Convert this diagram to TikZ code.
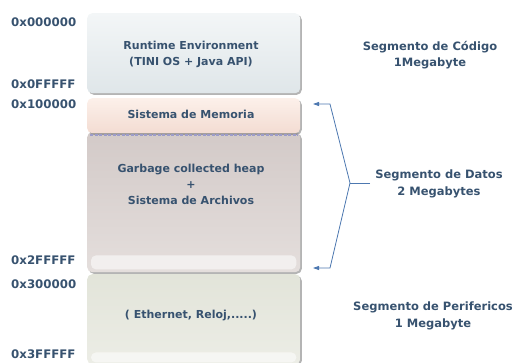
\documentclass[tikz,border=0pt]{standalone}
\usepackage{fontspec}
\setmainfont{DejaVu Sans}[BoldFont={DejaVu Sans Bold}]
\usetikzlibrary{shadows,arrows.meta}
\definecolor{txt}{HTML}{37526F}
\definecolor{brk}{HTML}{4D78B0}
\definecolor{codeTop}{HTML}{F3F6F7}
\definecolor{codeBot}{HTML}{DFE6E9}
\definecolor{memTop}{HTML}{FCF0EA}
\definecolor{memBot}{HTML}{F3DCD2}
\definecolor{heapTop}{HTML}{D3CAC8}
\definecolor{heapBot}{HTML}{E4DEDC}
\definecolor{periTop}{HTML}{E2E4D9}
\definecolor{periBot}{HTML}{ECEDE6}
\tikzset{
  membox/.style={rounded corners=5pt, minimum width=213pt, inner sep=0pt,
    drop shadow={shadow xshift=1.6pt, shadow yshift=-1.6pt, opacity=.45, fill=black!65}},
  boxtext/.style={text=txt, font=\fontsize{11}{16}\selectfont\bfseries, align=center},
  addr/.style={text=txt, font=\fontsize{11.8}{14}\selectfont\bfseries, anchor=west, inner sep=0pt},
  seglabel/.style={text=txt, font=\fontsize{11.5}{16.5}\selectfont\bfseries, align=center},
  glow/.style={rounded corners=5pt, fill=white, opacity=.55},
  bracket/.style={draw=brk, line width=0.8pt},
  tip/.style={-{Triangle[length=6pt,width=4pt]}}
}
\begin{document}
\begin{tikzpicture}[x=1pt,y=1pt]
\useasboundingbox (0,0) rectangle (514,-362);

% memory blocks
\node[membox, minimum height=80pt, top color=codeTop, bottom color=codeBot, anchor=north west]
  (code) at (87,-13) {};
\node[membox, minimum height=140pt, top color=heapTop, bottom color=heapBot, anchor=north west]
  (heap) at (87,-132) {};
\node[membox, minimum height=35pt, top color=memTop, bottom color=memBot, anchor=north west]
  (mem) at (87,-98) {};
\node[membox, minimum height=90pt, top color=periTop, bottom color=periBot, anchor=north west]
  (peri) at (87,-274) {};

% separator between the two data blocks
\draw[gray!70!blue!60, line width=1.2pt, dash pattern=on 3pt off 1.5pt] (mem.south west) ++(3,-1.5) -- ([xshift=-3pt,yshift=-1.5pt]mem.south east);

% light strips at the bottom of the blocks
\fill[glow] ([xshift=4pt,yshift=3pt]heap.south west) rectangle ([xshift=-4pt,yshift=17pt]heap.south east);
\fill[glow] ([xshift=4pt,yshift=2pt]peri.south west) rectangle ([xshift=-4pt,yshift=12pt]peri.south east);

% block contents
\node[boxtext] (codetxt) at (191,-54) {Runtime Environment\\(TINI OS + Java API)};
\node[boxtext] (memtxt) at (191,-114) {Sistema de Memoria};
\node[boxtext] (heaptxt) at (191,-184) {Garbage collected heap\\+\\Sistema de Archivos};
\node[boxtext] (peritxt) at (191,-316) {( Ethernet, Reloj,.....)};

% addresses
\node[addr] (a0) at (11,-22) {0x000000};
\node[addr] (a1) at (11,-84) {0x0FFFFF};
\node[addr] (a2) at (11,-104) {0x100000};
\node[addr] (a3) at (11,-260) {0x2FFFFF};
\node[addr] (a4) at (11,-284) {0x300000};
\node[addr] (a5) at (11,-354) {0x3FFFFF};

% segment labels
\node[seglabel] (scode) at (430,-55) {Segmento de Código\\1Megabyte};
\node[seglabel] (sdata) at (439,-184) {Segmento de Datos\\2 Megabytes};
\node[seglabel] (speri) at (433,-316) {Segmento de Perifericos\\1 Megabyte};

% bracket for the data segment
\coordinate (tTop) at (313,-104);
\coordinate (kTop) at (330,-104);
\coordinate (mid) at (350,-183);
\coordinate (midR) at (370,-183);
\coordinate (kBot) at (330,-268);
\coordinate (tBot) at (313,-268);
\draw[bracket] (midR) -- (mid);
\draw[bracket, tip] (mid) -- (kTop) -- (tTop);
\draw[bracket, tip] (mid) -- (kBot) -- (tBot);
\end{tikzpicture}
\end{document}
